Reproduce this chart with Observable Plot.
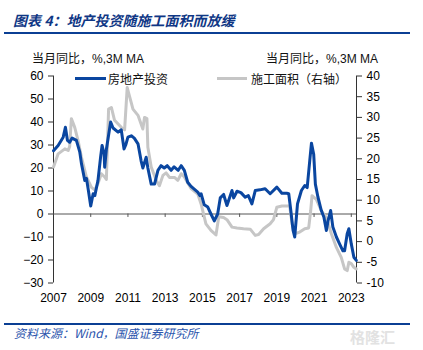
<!DOCTYPE html>
<html><head><meta charset="utf-8">
<script src="https://cdn.jsdelivr.net/npm/d3@7"></script>
<script src="https://cdn.jsdelivr.net/npm/@observablehq/plot@0.6"></script>
<style>
html,body{margin:0;padding:0;background:#fff;}
#wrap{position:relative;width:423px;height:350px;overflow:hidden;font-family:"Liberation Sans",Arial,"Noto Sans CJK SC",sans-serif;}
.abs{position:absolute;white-space:nowrap;}
.title{left:13px;top:10px;font-family:"Noto Sans CJK SC",sans-serif;font-size:14px;font-weight:bold;font-style:italic;color:#0f3785;line-height:20px;}
.rule1{left:4px;top:31.5px;width:406px;height:2px;background:#0b3f94;}
.rule2{left:4px;top:322.5px;width:406px;height:2px;background:#0b3f94;}
.unit{top:52px;font-size:12px;line-height:15px;color:#111;}
.leg{top:70.5px;font-size:12px;line-height:15px;color:#111;font-family:"Noto Sans CJK SC",sans-serif;}
.legline{height:3px;}
.cap{left:14px;top:325px;font-size:12px;line-height:15px;font-style:italic;color:#2b55ad;font-family:"Noto Sans CJK SC",sans-serif;}
.wm{left:350px;top:326px;font-size:15px;font-weight:bold;color:#e2e2e2;font-family:"Noto Sans CJK SC",sans-serif;}
#chart{position:absolute;left:0;top:45px;}
</style>
</head><body>
<div id="wrap">
  <div class="abs title">图表 4：地产投资随施工面积而放缓</div>
  <div class="abs rule1"></div>
  <div class="abs unit" style="left:32px;">当月同比，%,3M MA</div>
  <div class="abs unit" style="left:266px;">当月同比，%,3M MA</div>
  <div id="chart"></div>
  <div class="abs legline" style="left:75px;top:76.5px;width:31px;background:#0a46a0;"></div>
  <div class="abs leg" style="left:108px;">房地产投资</div>
  <div class="abs legline" style="left:217px;top:76.5px;width:30px;background:#c6c6c6;"></div>
  <div class="abs leg" style="left:251px;">施工面积（右轴）</div>
  <div class="abs rule2"></div>
  <div class="abs cap">资料来源：Wind，国盛证券研究所</div>
  <div class="abs wm">格隆汇</div>
</div>
<script>
// Real-estate investment, YoY %, 3M MA (left axis)
const invYears = [2007.00,2007.25,2007.52,2007.64,2007.75,2007.87,2008.00,2008.23,2008.41,2008.50,2008.68,2008.77,2008.86,2009.00,2009.13,2009.22,2009.39,2009.53,2009.61,2009.72,2009.75,2009.84,2010.07,2010.20,2010.47,2010.64,2010.79,2010.88,2011.00,2011.18,2011.34,2011.54,2011.71,2011.80,2011.98,2012.07,2012.25,2012.43,2012.61,2012.78,2012.95,2013.11,2013.32,2013.48,2013.70,2013.86,2014.03,2014.21,2014.39,2014.75,2014.87,2014.93,2015.10,2015.29,2015.46,2015.64,2015.82,2015.96,2016.14,2016.32,2016.50,2016.59,2016.68,2016.86,2017.07,2017.30,2017.47,2017.66,2017.84,2018.09,2018.37,2018.64,2019.00,2019.27,2019.53,2019.64,2019.75,2019.87,2019.96,2020.11,2020.32,2020.50,2020.63,2020.77,2020.86,2020.98,2021.07,2021.21,2021.39,2021.53,2021.66,2021.75,2021.89,2022.01,2022.20,2022.37,2022.55,2022.64,2022.78,2022.87,2023.00,2023.14,2023.27];
const invValues = [27.5,29.8,33.4,37.7,32,31.2,33,32,27,22,14.6,15.5,11,3.5,8.8,8,14.6,24.7,29.8,26,20.3,28,40,37.4,35.6,36.6,28.3,30,33.4,34,33,30.5,23,20,24.7,20,13,13,19,21,20,21,19,20.5,19,21,19,13.8,12,9.5,8,8.8,4,3,0,-3,0,7,8.5,3.7,8,10.2,7,9.9,9.3,7.3,8,4.4,10.2,10.5,11,8.8,11.7,9,9,8.8,1.5,-7,-10,4.4,10.2,12.4,11.5,23.3,30.8,26,13,7.3,1.5,-1.4,-7.2,-3,1.5,-5.7,-10,-13,-16,-16,-8.6,-6.4,-13,-18.8,-20.2];
// Floor space under construction, YoY %, 3M MA (right axis)
const areaYears = [2007.00,2007.25,2007.61,2007.79,2007.87,2007.96,2008.14,2008.32,2008.50,2008.77,2009.04,2009.21,2009.39,2009.57,2009.75,2009.84,2009.96,2010.11,2010.28,2010.64,2010.82,2010.96,2011.09,2011.27,2011.54,2011.80,2011.89,2012.02,2012.07,2012.25,2012.52,2012.69,2012.88,2013.05,2013.23,2013.50,2013.68,2013.86,2014.03,2014.39,2014.75,2014.93,2015.19,2015.46,2015.73,2015.88,2016.14,2016.32,2016.59,2016.86,2017.21,2017.57,2017.84,2018.02,2018.29,2018.64,2018.82,2019.00,2019.27,2019.62,2019.69,2019.82,2019.96,2020.23,2020.50,2020.71,2020.82,2020.89,2021.12,2021.39,2021.66,2021.93,2022.20,2022.46,2022.64,2022.78,2022.87,2023.00,2023.14,2023.27];
const areaValues = [18,21.2,22.4,22,23,29.7,27.6,24.4,20.4,15.6,13.1,12.5,14,16.4,15.6,15,32,32.4,29.3,27.6,27,37.2,35,32,30.5,27.2,30,29.7,22.8,18,14.8,13.5,16,16.6,15.5,15.5,14.8,16.4,15.6,12.8,11.5,9.1,4.3,2.7,1.6,6,5.8,5.3,3.5,3.3,3.1,3,1.5,1.7,3.1,4.3,5.3,8.3,8.6,8.6,8.5,4.3,1.9,2.3,3.1,3.3,7.5,11.1,10.2,7.5,5.8,1.9,-1.4,-3.8,-6.6,-7,-5,-5.3,-6.2,-6.6];

const xTicks = [2007,2009,2011,2013,2015,2017,2019,2021,2023];
const leftTicks = [-30,-20,-10,0,10,20,30,40,50,60];
const rightTicks = [-10,-5,0,5,10,15,20,25,30,35,40];
const xDomain = [2007, 2023.28];
const yDomain = [-30, 60];
const rDomain = [-10, 40];

const k = (yDomain[1]-yDomain[0])/(rDomain[1]-rDomain[0]);
const toLeft = r => (r - rDomain[0]) * k + yDomain[0];
const toRight = v => (v - yDomain[0]) / k + rDomain[0];

const n1 = Math.min(invYears.length, invValues.length);
const inv = d3.range(n1).map(i => ({x: invYears[i], y: invValues[i]}));
const n2 = Math.min(areaYears.length, areaValues.length);
const area = d3.range(n2).map(i => ({x: areaYears[i], y: toLeft(areaValues[i])}));

const chart = Plot.plot({
  width: 423, height: 275,
  marginLeft: 53, marginRight: 67, marginTop: 30.5, marginBottom: 37.5,
  style: {fontFamily: "'Liberation Sans', Arial, sans-serif", fontSize: "12px", color: "#000", background: "transparent", overflow: "visible"},
  x: {domain: xDomain},
  y: {domain: yDomain},
  marks: [
    Plot.axisY(leftTicks, {anchor: "left", tickSize: 5, tickPadding: 5, label: null, stroke: "#333", fill: "#000"}),
    Plot.axisY(rightTicks.map(toLeft), {anchor: "right", tickSize: 5, tickPadding: 5, label: null, stroke: "#333", fill: "#000", tickFormat: v => String(Math.round(toRight(v)))}),
    Plot.axisX(xTicks, {anchor: "bottom", tickSize: 0, tickPadding: 10.5, label: null, fill: "#000", tickFormat: d => String(d)}),
    Plot.ruleX(xDomain, {y1: yDomain[0], y2: yDomain[1], stroke: "#333"}),
    Plot.ruleY([0], {stroke: "#555"}),
    Plot.ruleX(xTicks.slice(1), {y1: 0, y2: -1.5, stroke: "#555"}),
    Plot.line(area, {x: "x", y: "y", stroke: "#c6c6c6", strokeWidth: 3, strokeLinejoin: "round"}),
    Plot.line(inv, {x: "x", y: "y", stroke: "#0a46a0", strokeWidth: 3, strokeLinejoin: "round"})
  ]
});
document.getElementById("chart").appendChild(chart);
</script>
</body></html>
